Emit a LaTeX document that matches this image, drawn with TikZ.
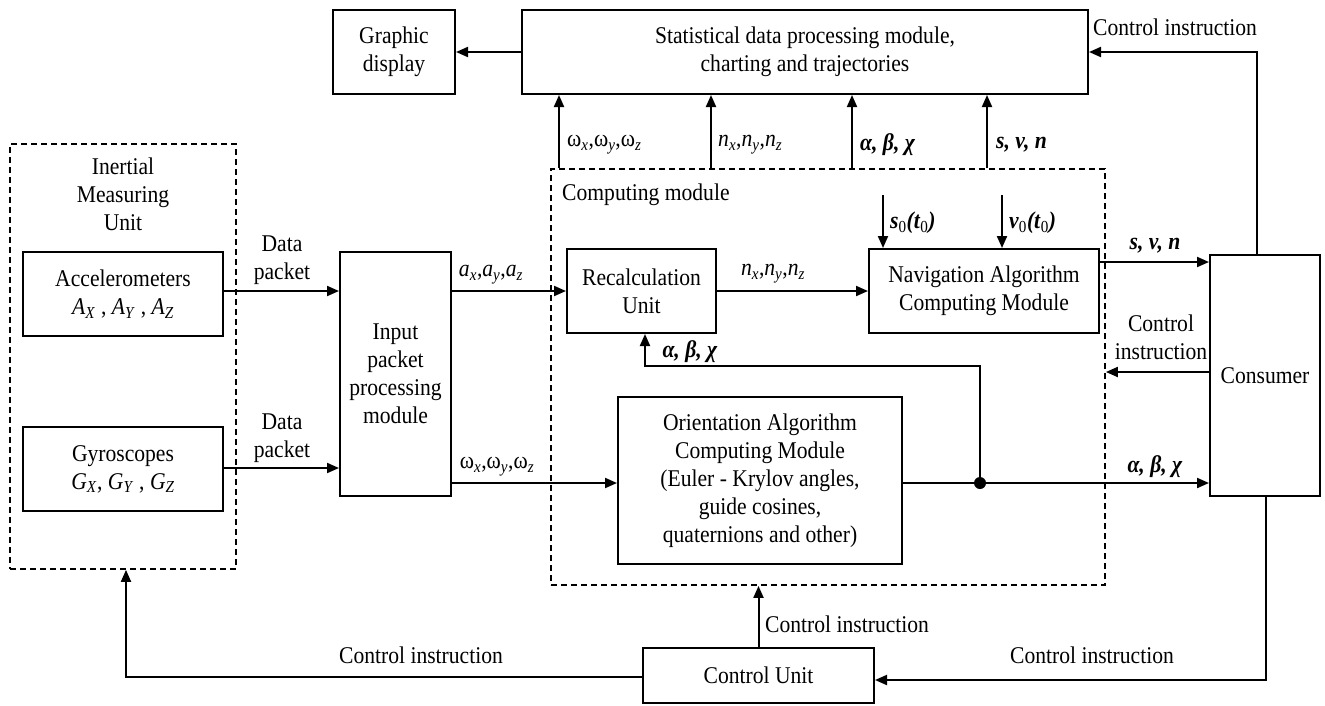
\documentclass[tikz,border=0pt]{standalone}
\usepackage{fontspec}
\setmainfont{Liberation Serif}[FakeStretch=0.9]
\usetikzlibrary{arrows.meta,calc}
% italic symbol with italic subscript
\newcommand{\sbi}[2]{\textit{#1}\textsubscript{\textit{#2}}}
% angular rate component
\newcommand{\om}[1]{ω\textsubscript{\textit{#1}}}
% bold italic
\newcommand{\bi}[1]{\textbf{\textit{#1}}}
\begin{document}
\begin{tikzpicture}[x=1pt,y=-1pt,
  font=\fontsize{24}{28}\selectfont,
  box/.style={draw, line width=2pt, inner sep=0pt, align=center},
  dbox/.style={draw, line width=1.8pt, dash pattern=on 6pt off 4pt, inner sep=0pt},
  arr/.style={line width=2pt, -{Triangle[length=12pt,width=10pt]}},
  ln/.style={line width=2pt},
  lbl/.style={inner sep=0pt, align=center}]
\useasboundingbox (0,0) rectangle (1325,705);

% ---- top row
\node[box, minimum width=122pt, minimum height=84pt] (gd) at (394,52) {Graphic\\display};
\node[box, minimum width=566pt, minimum height=84pt] (stat) at (805,52)
  {Statistical data processing module,\\charting and trajectories};

% ---- inertial measuring unit
\node[dbox, minimum width=226pt, minimum height=425pt] (imu) at (123,356.5) {};
\node[lbl] (imulbl) at (123,194) {Inertial\\Measuring\\Unit};
\node[box, minimum width=200pt, minimum height=84pt] (acc) at (123,294)
  {Accelerometers\\\sbi{A}{X} , \sbi{A}{Y} , \sbi{A}{Z}};
\node[box, minimum width=200pt, minimum height=84pt] (gyr) at (123,469)
  {Gyroscopes\\\sbi{G}{X}, \sbi{G}{Y} , \sbi{G}{Z}};

% ---- input packet processing
\node[box, minimum width=111pt, minimum height=244pt] (inp) at (395.5,374)
  {Input\\packet\\processing\\module};

% ---- computing module
\node[dbox, minimum width=554pt, minimum height=416pt] (comp) at (828,377) {};
\node[lbl, anchor=west] (complbl) at (562,195) {Computing module};
\node[box, minimum width=149pt, minimum height=84pt] (rec) at (641.5,291) {Recalculation\\Unit};
\node[box, minimum width=230pt, minimum height=84pt] (nav) at (984,291)
  {Navigation Algorithm\\Computing Module};
\node[box, minimum width=284pt, minimum height=167pt] (ori) at (760,480.5)
  {Orientation Algorithm\\Computing Module\\(Euler - Krylov angles,\\guide cosines,\\quaternions and other)};
\fill (980,483) circle (6pt);
\coordinate (dot) at (980,483);

% ---- consumer and control unit
\node[box, minimum width=110pt, minimum height=241pt] (cons) at (1265,375.5) {Consumer};
\node[box, minimum width=231pt, minimum height=55pt] (cu) at (758.5,675.5) {Control Unit};

% ---- helper coordinates
\coordinate (u1) at (559,0);
\coordinate (u2) at (711,0);
\coordinate (u3) at (852,0);
\coordinate (u4) at (987,0);
\coordinate (ctop) at (1257,0);
\coordinate (cbot) at (1266,0);
\coordinate (s0) at (883,195);
\coordinate (v0) at (1002,195);
\coordinate (ysvn) at (0,262);
\coordinate (ycc) at (0,372);
\coordinate (ya) at (0,291);
\coordinate (fb) at (645,366);
\coordinate (ycl) at (0,677);
\coordinate (ycr) at (0,680);
\coordinate (imux) at (126,0);

% ---- connectors
\draw[arr] (stat.west) -- (gd.east);
\draw[arr] (comp.north -| u1) -- (stat.south -| u1);
\draw[arr] (comp.north -| u2) -- (stat.south -| u2);
\draw[arr] (comp.north -| u3) -- (stat.south -| u3);
\draw[arr] (comp.north -| u4) -- (stat.south -| u4);
\node[lbl, anchor=west] (l1) at (567,145) {\om{x},\om{y},\om{z}};
\node[lbl, anchor=west] (l2) at (718,145) {\sbi{n}{x},\sbi{n}{y},\sbi{n}{z}};
\node[lbl, anchor=west] (l3) at (860,145) {\bi{α, β, χ}};
\node[lbl, anchor=west] (l4) at (996,145) {\bi{s, v, n}};

\draw[arr] (cons.north -| ctop) |- (stat.east);
\node[lbl, anchor=west] (lci1) at (1093,27) {Control instruction};

\draw[arr] (acc.east |- ya) -- (inp.west |- ya);
\node[lbl] (dp1) at (282,260) {Data\\packet};
\draw[arr] (gyr.east |- 0,468) -- (inp.west |- 0,468);
\node[lbl] (dp2) at (282,438) {Data\\packet};

\draw[arr] (inp.east |- ya) -- (rec.west |- ya);
\node[lbl] (la) at (491,275) {\sbi{a}{x},\sbi{a}{y},\sbi{a}{z}};
\draw[arr] (inp.east |- dot) -- (ori.west |- dot);
\node[lbl] (lw) at (497,467) {\om{x},\om{y},\om{z}};

\draw[arr] (rec.east) -- (nav.west);
\node[lbl] (ln) at (773,274) {\sbi{n}{x},\sbi{n}{y},\sbi{n}{z}};

\draw[arr] (s0) -- (s0 |- nav.north);
\node[lbl, anchor=west] (ls0) at (890,223) {\bi{s}\textsubscript{0}\bi{(t}\textsubscript{0}\bi{)}};
\draw[arr] (v0) -- (v0 |- nav.north);
\node[lbl, anchor=west] (lv0) at (1009,223) {\bi{v}\textsubscript{0}\bi{(t}\textsubscript{0}\bi{)}};

\draw[arr] (nav.east |- ysvn) -- (cons.west |- ysvn);
\node[lbl] (lsvn) at (1155,246) {\bi{s, v, n}};
\draw[arr] (cons.west |- ycc) -- (comp.east |- ycc);
\node[lbl] (lci2) at (1161,337) {Control\\instruction};
\draw[ln] (ori.east |- dot) -- (dot);
\draw[arr] (dot) -- (cons.west |- dot);
\node[lbl] (labc) at (1155,467) {\bi{α, β, χ}};

\draw[arr] (dot) |- (fb) -- (fb |- rec.south);
\node[lbl] (labc2) at (690,352) {\bi{α, β, χ}};

\draw[arr] (cu.north) -- (cu.north |- comp.south);
\node[lbl, anchor=west] (lci3) at (765,624) {Control instruction};
\draw[arr] (cu.west |- ycl) -| (imux |- imu.south);
\node[lbl] (lci4) at (421,655) {Control instruction};
\draw[arr] (cons.south -| cbot) |- (cu.east |- ycr);
\node[lbl] (lci5) at (1092,655) {Control instruction};
\end{tikzpicture}
\end{document}
